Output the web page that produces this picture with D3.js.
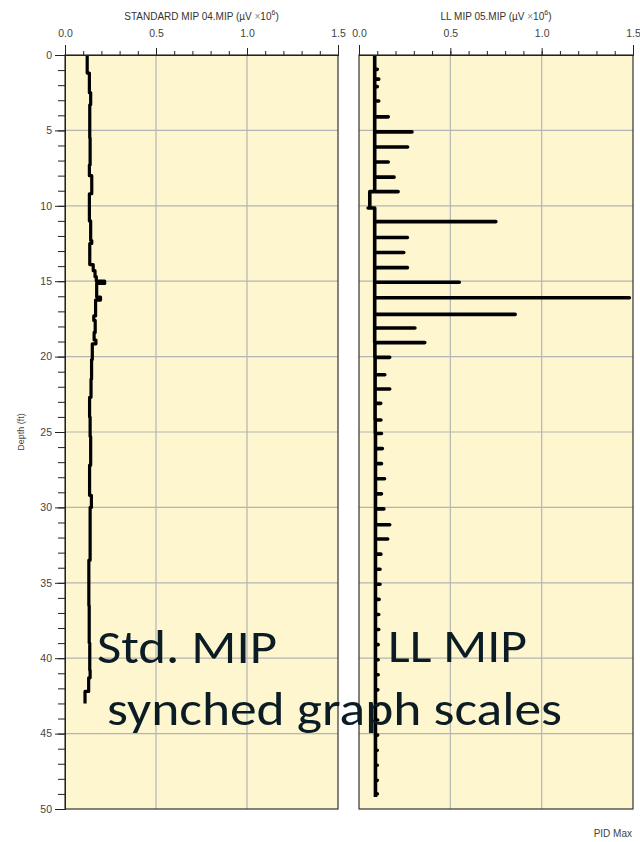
<!DOCTYPE html>
<html>
<head>
<meta charset="utf-8">
<script src="https://cdn.jsdelivr.net/npm/d3@7"></script>
<style>
  body { margin: 0; background: #fff; }
  svg { display: block; }
</style>
</head>
<body>
<div id="chart"></div>
<script>
// depth (ft) where each step of the standard MIP trace starts, and its value (µV x 10^6)
var stdDepth = [0, 1.2, 2.5, 3.3, 5.5, 7.3, 8.0, 9.2, 11.0, 12.3, 12.5, 13.9, 14.3, 14.7, 15.0, 15.15,
  16.05, 16.25, 17.3, 17.6, 18.4, 18.9, 19.15, 20.2, 21.5, 22.7, 24.0, 25.3, 27.2, 29.2, 30.0,
  33.5, 36.5, 39.0, 40.8, 41.3, 42.2, 43.0];
var stdValue = [0.122, 0.134, 0.141, 0.136, 0.138, 0.134, 0.147, 0.134, 0.141, 0.147, 0.136, 0.155,
  0.165, 0.172, 0.218, 0.174, 0.195, 0.168, 0.158, 0.166, 0.160, 0.170, 0.150, 0.146, 0.143, 0.135,
  0.138, 0.141, 0.135, 0.145, 0.138, 0.131, 0.133, 0.136, 0.138, 0.130, 0.110, 0.110];

// LL MIP: spikes at each reading depth, peak value, and the baseline after the spike
var llStartBase = 0.086;
var llSpikeDepth = [0.95, 1.6, 2.1, 3.05, 4.1, 5.1, 6.1, 7.1, 8.1, 9.06, 10.15, 11.05, 12.1, 13.1,
  14.1, 15.07, 16.1, 17.2, 18.1, 19.07, 20.05, 21.2, 22.15, 23.1, 24.2,
  25.1, 26.1, 27.1, 28.1, 29.1, 30.1, 31.15, 32.1, 33.1, 34.1, 35.1, 36.1, 37.1, 38.1, 39.1,
  40.1, 41.1, 42.1, 43.1, 44.1, 45.1, 46.1, 47.1, 48.1, 49.0];
var llSpikePeak = [0.10, 0.108, 0.10, 0.108, 0.16, 0.29, 0.266, 0.16, 0.192, 0.214, 0.05, 0.749,
  0.265, 0.245, 0.265, 0.549, 1.48, 0.855, 0.306, 0.36, 0.168, 0.141, 0.168, 0.119, 0.12,
  0.123, 0.128, 0.123, 0.14, 0.123, 0.136, 0.168, 0.157, 0.12, 0.115, 0.115, 0.11, 0.108, 0.108,
  0.105, 0.105, 0.105, 0.103, 0.103, 0.102, 0.102, 0.10, 0.10, 0.10, 0.10];
var llBase = [0.086, 0.086, 0.086, 0.086, 0.086, 0.086, 0.086, 0.086, 0.086, 0.059, 0.086, 0.086,
  0.086, 0.086, 0.086, 0.086, 0.086, 0.086, 0.086, 0.087, 0.088, 0.088, 0.088, 0.088, 0.089,
  0.09, 0.09, 0.09, 0.09, 0.09, 0.09, 0.09, 0.09, 0.09, 0.09, 0.09, 0.09, 0.09, 0.09, 0.09,
  0.09, 0.09, 0.09, 0.09, 0.09, 0.09, 0.09, 0.09, 0.09, 0.09];
var llEndDepth = 49.2;

var xTicks = [0, 0.5, 1.0, 1.5];
var yTicks = [0, 5, 10, 15, 20, 25, 30, 35, 40, 45, 50];
var titles = ["STANDARD MIP 04.MIP", "LL MIP 05.MIP"];

var W = 640, H = 842;
var yTop = 55, yBot = 809;
var panels = [{ x0: 65, x1: 338 }, { x0: 359, x1: 633 }];

var svg = d3.select('#chart').append('svg')
  .attr('width', W).attr('height', H);

var y = d3.scaleLinear().domain([0, 50]).range([yTop, yBot]);

// build point lists for each trace
var stdPts = stdDepth.map(function (d, i) { return [stdValue[i], d]; });
var llPts = [[llStartBase, 0]];
var prevBase = llStartBase;
llSpikeDepth.forEach(function (d, i) {
  llPts.push([prevBase, d]);
  llPts.push([llSpikePeak[i], d]);
  llPts.push([llBase[i], d]);
  prevBase = llBase[i];
});
llPts.push([prevBase, llEndDepth]);

var traces = [
  { pts: stdPts, curve: d3.curveStepBefore, w: 3.2 },
  { pts: llPts, curve: d3.curveLinear, w: 3.6 }
];

panels.forEach(function (p, k) {
  var x = d3.scaleLinear().domain([0, 1.5]).range([p.x0, p.x1]);
  var g = svg.append('g');

  // background
  g.append('rect')
    .attr('x', p.x0).attr('y', yTop)
    .attr('width', p.x1 - p.x0).attr('height', yBot - yTop)
    .attr('fill', '#fdf6cf');

  // grid
  g.selectAll('.vg').data([0.5, 1.0]).enter().append('line')
    .attr('x1', function (d) { return x(d); }).attr('x2', function (d) { return x(d); })
    .attr('y1', yTop).attr('y2', yBot)
    .attr('stroke', '#b4b4b4').attr('stroke-width', 1.2);
  g.selectAll('.hg').data(yTicks.slice(1, -1)).enter().append('line')
    .attr('x1', p.x0).attr('x2', p.x1)
    .attr('y1', function (d) { return y(d); }).attr('y2', function (d) { return y(d); })
    .attr('stroke', '#b4b4b4').attr('stroke-width', 1.2);

  // trace
  var line = d3.line()
    .x(function (d) { return x(d[0]); })
    .y(function (d) { return y(d[1]); })
    .curve(traces[k].curve);
  g.append('path')
    .attr('d', line(traces[k].pts))
    .attr('fill', 'none')
    .attr('stroke', '#000')
    .attr('stroke-width', traces[k].w)
    .attr('stroke-linejoin', 'round');

  // frame
  g.append('rect')
    .attr('x', p.x0).attr('y', yTop)
    .attr('width', p.x1 - p.x0).attr('height', yBot - yTop)
    .attr('fill', 'none')
    .attr('stroke', '#333').attr('stroke-width', 1.2);

  // top axis, minor then major
  var minor = d3.range(0, 1.51, 0.1);
  g.append('g')
    .attr('transform', 'translate(0,' + yTop + ')')
    .call(d3.axisTop(x).tickValues(minor).tickSizeInner(4).tickSizeOuter(10).tickFormat(''))
    .call(function (a) { a.selectAll('line,path').attr('stroke', '#222'); });
  g.append('g')
    .attr('transform', 'translate(0,' + yTop + ')')
    .call(d3.axisTop(x).tickValues(xTicks).tickSizeInner(7).tickSizeOuter(10)
      .tickPadding(11).tickFormat(d3.format('.1f')))
    .call(function (a) {
      a.selectAll('line,path').attr('stroke', '#222');
      a.selectAll('text').attr('fill', '#444')
        .style('font-family', 'Liberation Sans, Arial, sans-serif').style('font-size', '10.5px');
    });

  // title
  var t = g.append('text')
    .attr('x', (p.x0 + p.x1) / 2).attr('y', 20)
    .attr('text-anchor', 'middle')
    .attr('fill', '#333')
    .style('font-family', 'Liberation Sans, Arial, sans-serif')
    .style('font-size', '10px');
  t.append('tspan').text(titles[k] + ' (\u00b5V ');
  t.append('tspan').attr('fill', '#888').text('\u00d7');
  t.append('tspan').text('10');
  t.append('tspan').attr('dy', -5).style('font-size', '7px').text('6');
  t.append('tspan').attr('dy', 5).text(')');
});

// depth axis (left panel only)
var yg = svg.append('g').attr('transform', 'translate(' + panels[0].x0 + ',0)');
yg.call(d3.axisLeft(y).tickValues(d3.range(0, 51, 1)).tickSize(7).tickFormat(''))
  .call(function (a) { a.selectAll('line,path').attr('stroke', '#222'); });
yg.append('g')
  .call(d3.axisLeft(y).tickValues(yTicks).tickSize(10).tickPadding(3))
  .call(function (a) {
    a.select('.domain').remove();
    a.selectAll('line').attr('stroke', '#222');
    a.selectAll('text').attr('fill', '#444')
      .style('font-family', 'Liberation Sans, Arial, sans-serif').style('font-size', '10.5px');
  });

svg.append('text')
  .attr('transform', 'translate(24,' + ((yTop + yBot) / 2) + ') rotate(-90)')
  .attr('text-anchor', 'middle')
  .attr('fill', '#444')
  .style('font-family', 'Liberation Sans, Arial, sans-serif')
  .style('font-size', '9px')
  .text('Depth (ft)');

svg.append('text')
  .attr('x', 632).attr('y', 837)
  .attr('text-anchor', 'end')
  .attr('fill', '#444')
  .style('font-family', 'Liberation Sans, Arial, sans-serif')
  .style('font-size', '10px')
  .text('PID Max');

// slide overlay labels
var notes = [
  { text: 'Std. MIP', x: 97, y: 663, w: 180 },
  { text: 'LL MIP', x: 388, y: 662, w: 139 },
  { text: 'synched graph scales', x: 107, y: 725, w: 455 }
];
svg.selectAll('.note').data(notes).enter().append('text')
  .attr('x', function (d) { return d.x; })
  .attr('y', function (d) { return d.y; })
  .attr('textLength', function (d) { return d.w; })
  .attr('lengthAdjust', 'spacingAndGlyphs')
  .attr('fill', '#0b1c24')
  .style('font-family', 'Carlito, "Open Sans", sans-serif')
  .style('font-size', '48px')
  .text(function (d) { return d.text; });
</script>
</body>
</html>
